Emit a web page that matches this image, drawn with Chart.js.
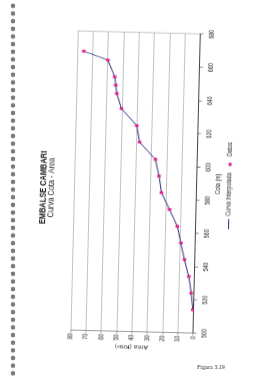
<!DOCTYPE html>
<html>
<head>
<meta charset="utf-8">
<script src="https://cdn.jsdelivr.net/npm/chart.js@4.4.1/dist/chart.umd.min.js"></script>
<style>
html, body { margin:0; padding:0; background:#fff; }
body { width:270px; height:380px; position:relative; overflow:hidden; }
#holes { position:absolute; left:9px; top:2px; width:8px; height:376px;
  background: radial-gradient(circle, #7a7a7a 2px, rgba(0,0,0,0) 2.6px) 0 0 / 8px 7.67px repeat-y; }
/* the scan is turned on its side and squeezed a bit along the page */
#wrap { position:absolute; left:-72.1px; top:81px; width:417px; height:213px;
  transform: rotate(-88.6deg) scaleX(0.78); }
#fig { position:absolute; left:197px; top:364px; font: 6px "Liberation Serif", serif; color:#333; }
</style>
</head>
<body>
<div id="holes"></div>
<div id="wrap"><canvas id="chart" width="417" height="213"></canvas></div>
<div id="fig">Figura 3.19</div>
<script>
// cota (m) vs area (km2)
var cota = [514, 524, 534, 544, 554, 564, 574, 584, 594, 604, 614, 624, 634, 643, 648, 653, 663, 668];
var area = [0.7, 2.0, 3.9, 7.0, 9.6, 12.1, 17.5, 23.0, 24.8, 27.5, 38.0, 40.1, 50.4, 53.6, 54.4, 55.2, 60.0, 75.7];
var seriesNames = ['Curva Interpolada', 'Datos'];
var cotaTicks = [500, 680, 20];
var areaTicks = [0, 80, 10];

var lineColor = '#2b2b7c';
var dotColor = '#e0208a';
var font = '"Liberation Sans", Arial, sans-serif';

var points = cota.map(function(c, i) { return {x: c, y: area[i]}; });

// little icons for the legend
function makeIcon(w, h, color) {
    var c = document.createElement('canvas');
    c.width = w; c.height = h;
    var g = c.getContext('2d');
    g.fillStyle = color;
    g.fillRect(0, 0, w, h);
    return c;
}
var icons = [makeIcon(13, 1, lineColor), makeIcon(4, 3, dotColor)];

function hitBounds(boxes) {
    var l = Infinity, t = Infinity, r = -Infinity, b = -Infinity;
    boxes.forEach(function(h) {
        l = Math.min(l, h.left); t = Math.min(t, h.top);
        r = Math.max(r, h.left + h.width); b = Math.max(b, h.top + h.height);
    });
    return {l: l, t: t, r: r, b: b};
}

// legend sits a little off centre in the original, and has a frame round it
var legendFrame = {
    id: 'legendFrame',
    beforeDraw: function(chart) {
        var lg = chart.legend;
        var hb = hitBounds(lg.legendHitBoxes);
        var d = 213.7 - (hb.l + hb.r) / 2;
        lg.left += d; lg.right += d;
        lg.adjustHitBoxes();
    },
    afterDraw: function(chart) {
        var boxes = chart.legend.legendHitBoxes;
        if (!boxes || !boxes.length) return;
        var hb = hitBounds(boxes);
        var ctx = chart.ctx;
        ctx.save();
        ctx.strokeStyle = '#555';
        ctx.lineWidth = 0.8;
        ctx.strokeRect(hb.l - 3, hb.t - 1.5, hb.r - hb.l + 6, hb.b - hb.t + 3);
        ctx.restore();
    }
};

new Chart(document.getElementById('chart'), {
    type: 'scatter',
    data: {
        datasets: [{
            label: seriesNames[0],
            type: 'line',
            data: points,
            borderColor: lineColor,
            borderWidth: 1,
            pointRadius: 0,
            tension: 0,
            fill: false,
            order: 2
        }, {
            label: seriesNames[1],
            data: points,
            pointStyle: 'rect',
            pointRadius: 2.5,
            backgroundColor: dotColor,
            borderColor: dotColor,
            borderWidth: 0,
            order: 1
        }]
    },
    options: {
        responsive: false,
        animation: false,
        layout: { padding: { left: 0, right: 5.8, top: 0, bottom: 0 } },
        scales: {
            x: {
                type: 'linear',
                min: cotaTicks[0], max: cotaTicks[1],
                ticks: { stepSize: cotaTicks[2], font: { family: font, size: 6.8 }, color: '#222', padding: 4.2, maxRotation: 0 },
                grid: {
                    color: function(c) { return c.tick && c.tick.value === cotaTicks[1] ? '#999' : 'rgba(0,0,0,0)'; },
                    tickColor: '#444', tickLength: 3, lineWidth: 0.8
                },
                border: { color: '#444', width: 1 },
                title: { display: true, text: 'Cota (m)', color: '#222', font: { family: font, size: 6.8 }, padding: { top: 0, bottom: 0 } },
                afterFit: function(s) { s.height = 25.1; }
            },
            y: {
                min: areaTicks[0], max: areaTicks[1],
                ticks: { stepSize: areaTicks[2], font: { family: font, size: 6.8 }, color: '#222', padding: 1.2 },
                grid: { color: '#b4b4b4', lineWidth: 0.8, tickLength: 3, tickColor: '#888' },
                border: { color: '#888', width: 1 },
                title: { display: true, text: 'Area (Km²)', color: '#222', font: { family: font, size: 6.8 }, padding: { top: 0, bottom: 0 } },
                afterFit: function(s) { s.width = 23.7; }
            }
        },
        plugins: {
            title: {
                display: true, text: 'EMBALSE CAMBARI', color: '#111',
                font: { family: font, size: 9.5, weight: 'bold', lineHeight: 0.8 },
                padding: { top: 9.5, bottom: 0 }
            },
            subtitle: {
                display: true, text: 'Curva Cota - Area', color: '#222',
                font: { family: font, size: 9.5, lineHeight: 0.8 },
                padding: { top: 0.8, bottom: 18.5 }
            },
            legend: {
                position: 'bottom',
                labels: {
                    usePointStyle: true,
                    pointStyleWidth: 13,
                    color: '#222',
                    padding: 4,
                    font: { family: font, size: 7 },
                    sort: function(a, b) { return a.datasetIndex - b.datasetIndex; },
                    generateLabels: function(chart) {
                        var items = Chart.defaults.plugins.legend.labels.generateLabels(chart);
                        items.forEach(function(it) { it.pointStyle = icons[it.datasetIndex]; });
                        return items;
                    }
                }
            },
            tooltip: { enabled: false }
        }
    },
    plugins: [legendFrame]
});
</script>
</body>
</html>
